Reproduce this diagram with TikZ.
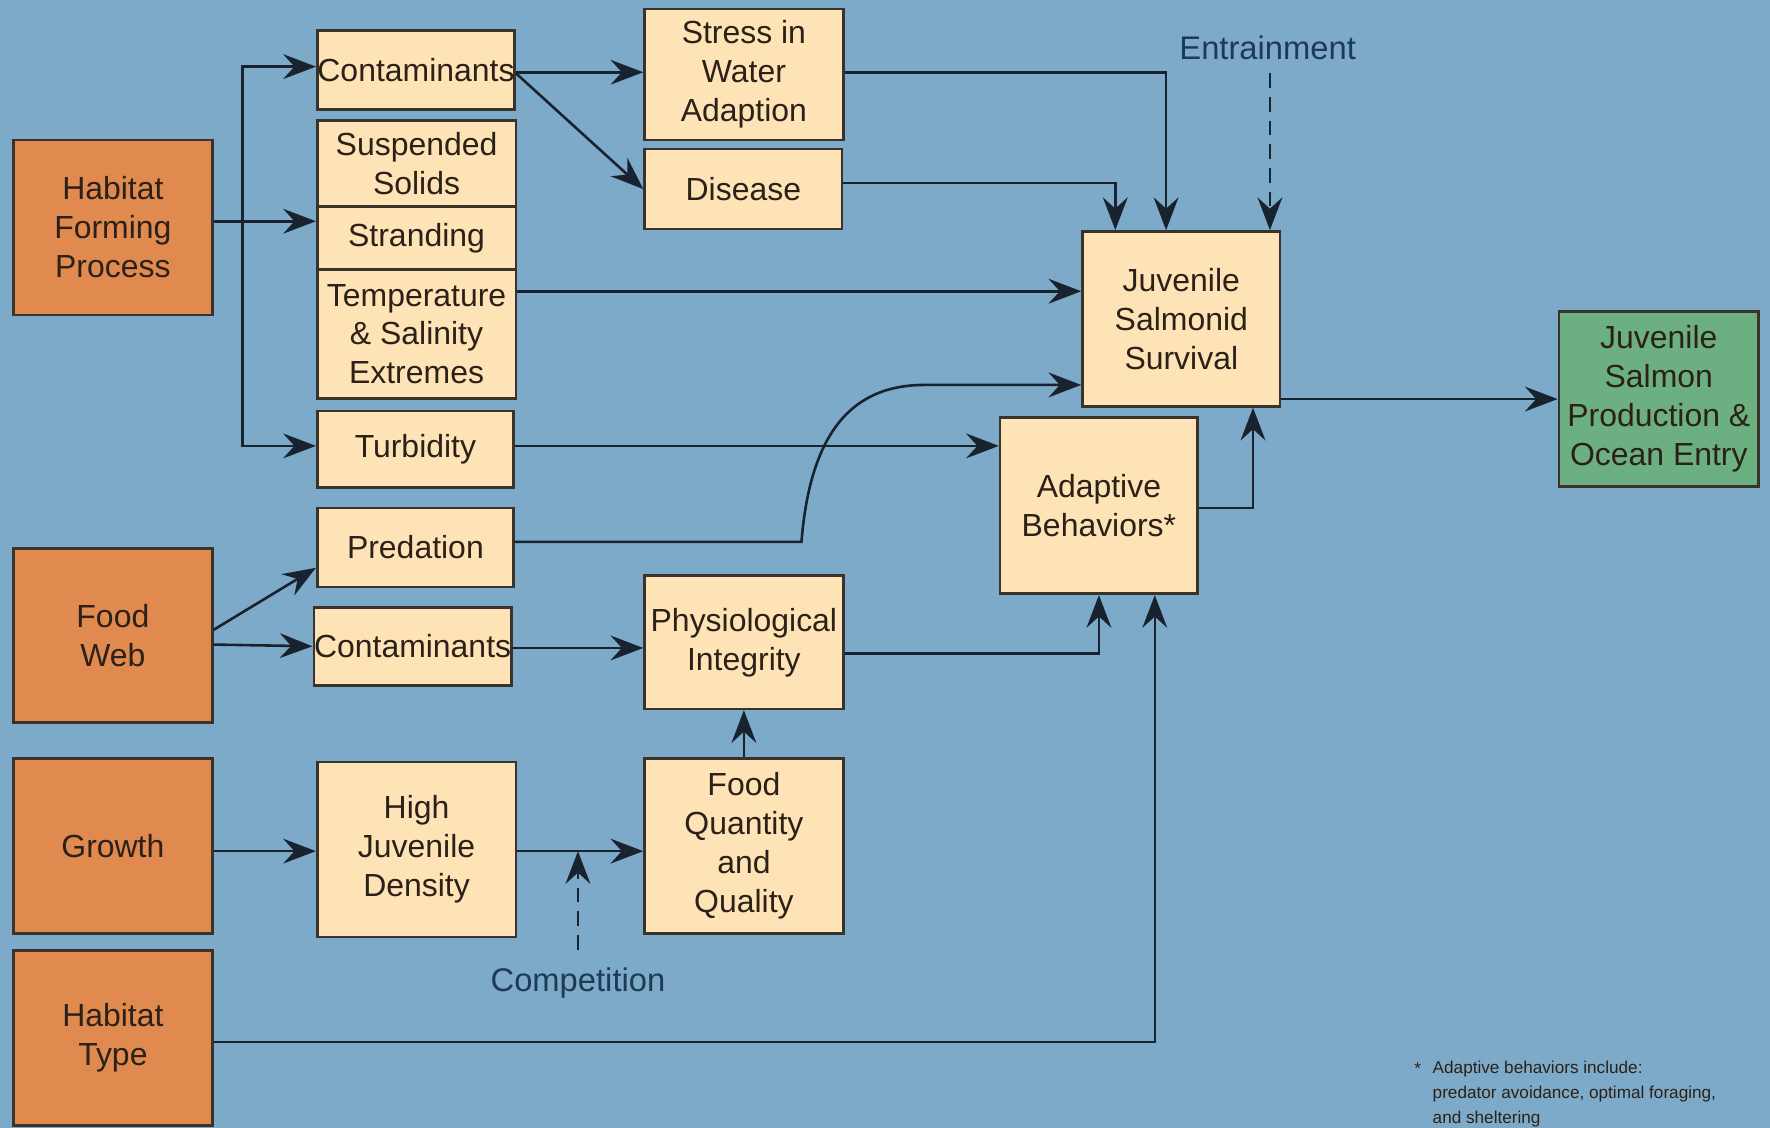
\documentclass[tikz,border=0pt]{standalone}
\usepackage{fontspec}
\setmainfont{Liberation Sans}
\usetikzlibrary{arrows.meta,calc}
\definecolor{bgblue}{HTML}{7DAAC8}
\definecolor{orangeF}{HTML}{E08A4F}
\definecolor{cream}{HTML}{FDE3B5}
\definecolor{greenF}{HTML}{6CB081}
\definecolor{boxline}{HTML}{3A332B}
\definecolor{wire}{HTML}{18232F}
\definecolor{ink}{HTML}{2B2118}
\definecolor{labelblue}{HTML}{1E3A55}
\begin{document}
\begin{tikzpicture}[x=1pt,y=-1pt,
  box/.style={draw=boxline, line width=2.3pt, align=center, inner sep=0pt,
    font=\fontsize{28.3}{34.5}\selectfont, text=ink},
  driver/.style={box, fill=orangeF},
  item/.style={box, fill=cream},
  outcome/.style={box, fill=greenF},
  arr/.style={draw=wire, line width=2.3pt, -{Stealth[length=29pt,width=22pt,inset=10pt]}},
  darr/.style={arr, dash pattern=on 13pt off 8pt},
  lbl/.style={font=\fontsize{29}{34}\selectfont, text=labelblue, inner sep=0pt},
  note/.style={font=\fontsize{15.2}{22}\selectfont, text=ink, inner sep=0pt, align=left}
]
\fill[bgblue] (0,0) rectangle (1568,999);
\useasboundingbox (0,0) rectangle (1568,999);

% driving processes
\node[driver, minimum width=176pt, minimum height=155pt] (hfp) at (100,201.5) {Habitat\\Forming\\Process};
\node[driver, minimum width=176pt, minimum height=154pt] (fw) at (100,563) {Food\\Web};
\node[driver, minimum width=176pt, minimum height=155pt] (gr) at (100,749.5) {Growth};
\node[driver, minimum width=176pt, minimum height=155pt] (ht) at (100,919.5) {Habitat\\Type};

% stressors
\node[item, minimum width=175pt, minimum height=70pt] (c1) at (368.5,62) {Contaminants};
\node[item, minimum width=176pt, minimum height=76pt] (ss) at (369,145) {Suspended\\Solids};
\node[item, minimum width=176pt, minimum height=56pt] (st) at (369,211) {Stranding};
\node[item, minimum width=176pt, minimum height=114pt] (te) at (369,296) {Temperature\\\& Salinity\\Extremes};
\node[item, minimum width=174pt, minimum height=68pt] (tu) at (368,398) {Turbidity};
\node[item, minimum width=174pt, minimum height=70pt] (pr) at (368,485) {Predation};
\node[item, minimum width=175pt, minimum height=69pt] (c2) at (365.5,572.5) {Contaminants};
\node[item, minimum width=176pt, minimum height=155pt] (hj) at (369,752.5) {High\\Juvenile\\Density};

% intermediate effects
\node[item, minimum width=176pt, minimum height=116pt] (sw) at (659,66) {Stress in\\Water\\Adaption};
\node[item, minimum width=175pt, minimum height=71pt] (di) at (658.5,167.5) {Disease};
\node[item, minimum width=176pt, minimum height=118pt] (pi) at (659,569) {Physiological\\Integrity};
\node[item, minimum width=176pt, minimum height=155pt] (fq) at (659,749.5) {Food\\Quantity\\and\\Quality};

% responses and outcome
\node[item, minimum width=175pt, minimum height=155pt] (js) at (1046.5,282.5) {Juvenile\\Salmonid\\Survival};
\node[item, minimum width=175pt, minimum height=156pt] (ab) at (973.5,448) {Adaptive\\Behaviors*};
\node[outcome, minimum width=177pt, minimum height=155pt] (jp) at (1469.5,353.5) {Juvenile\\Salmon\\Production \&\\Ocean Entry};

% free labels
\node[lbl] (ent) at (1123,42) {Entrainment};
\node[lbl] (comp) at (512,871) {Competition};
\node[note, anchor=north west] (fn) at (1269,940) {Adaptive behaviors include:\\predator avoidance, optimal foraging,\\and sheltering};
\node[note, anchor=north east] (star) at (1259,941) {*};

% habitat forming process fan-out
\coordinate (trunk) at (215,196);
\draw[arr] ([yshift=5.5pt]hfp.east) -- (st.west |- trunk);
\draw[arr] (trunk) |- ([yshift=3pt]c1.west);
\draw[arr] (trunk) |- ([yshift=3pt]tu.west);

% upper stressor paths
\draw[arr] ([yshift=-2pt]c1.east) -- ([yshift=-2pt]c1.east -| sw.west);
\draw[arr] ([yshift=-3pt]c1.east) -- (di.west);
\draw[arr] ([yshift=2pt]sw.east) -| ([xshift=-13.5pt]js.north);
\draw[arr] ([yshift=5.5pt]di.east) -| ([xshift=-58.5pt]js.north);
\draw[darr] ([yshift=-12pt]ent.south -| js.north) ++(78.5,0) -- ([xshift=78.5pt]js.north);
\draw[arr] ([yshift=38pt]te.east) -- ([yshift=38pt]te.east -| js.west);
\draw[arr] ([yshift=3pt]tu.east) -- ([yshift=3pt]tu.east -| ab.west);

% predation path bending up into survival
\coordinate (pbend) at (710,480);
\coordinate (ptop) at (819,341);
\draw[arr] ([yshift=5pt]pr.east) -- (pbend) .. controls +(8,-100) and +(-62,0) .. (ptop) -- (ptop -| js.west);

% adaptive behaviors and survival outputs
\draw[arr] ([yshift=-2pt]ab.east) -| ([xshift=63.5pt]js.south);
\draw[arr] (js.east |- jp.west) -- (jp.west);

% food web paths
\draw[arr] ([yshift=5pt]fw.east) -- ([yshift=-18pt]pr.west);
\draw[arr] ([yshift=-8pt]fw.east) -- (c2.west);
\draw[arr] ([yshift=-1.5pt]c2.east) -- ([yshift=-1.5pt]c2.east -| pi.west);
\draw[arr] ([yshift=-10pt]pi.east) -| (ab.south);
\draw[arr] ([yshift=-3.5pt]ht.east) -| ([xshift=49.5pt]ab.south);

% growth and competition
\draw[arr] ([yshift=-1.5pt]hj.west -| gr.east) -- ([yshift=-1.5pt]hj.west);
\draw[arr] ([yshift=-1.5pt]hj.east) -- ([yshift=-1.5pt]hj.east -| fq.west);
\draw[darr] ([yshift=16pt]comp.north) -- ([yshift=-1.5pt]comp.north |- hj.east);
\draw[arr] (fq.north) -- (pi.south);
\end{tikzpicture}
\end{document}
